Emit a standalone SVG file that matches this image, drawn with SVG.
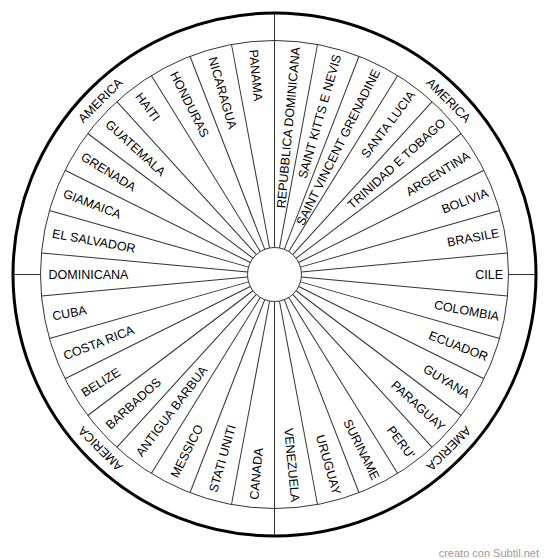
<svg xmlns="http://www.w3.org/2000/svg" width="550" height="559" viewBox="0 0 550 559">
<style>
.ring{fill:none;stroke:#333;stroke-width:1}
.outer{fill:none;stroke:#000;stroke-width:3}
.sp line{stroke:#333;stroke-width:1}
text{font-family:"Liberation Sans",Arial,sans-serif;font-size:12.5px;fill:#000}
.r text{text-anchor:end}
.am{text-anchor:middle}
.credit{font-size:11px;fill:#999}
</style>
<rect width="550" height="559" fill="#fff"/>
<circle class="outer" cx="274.5" cy="274.5" r="261.5"/>
<circle class="ring" cx="274.5" cy="274.5" r="234"/>
<circle class="ring" cx="274.5" cy="274.5" r="27"/>
<g id="connectors" class="sp">
<line x1="301.5" y1="274.5" x2="508.5" y2="274.5" transform="rotate(5.294 274.5 274.5)"/>
<line x1="301.5" y1="274.5" x2="508.5" y2="274.5" transform="rotate(15.882 274.5 274.5)"/>
<line x1="301.5" y1="274.5" x2="508.5" y2="274.5" transform="rotate(26.471 274.5 274.5)"/>
<line x1="301.5" y1="274.5" x2="508.5" y2="274.5" transform="rotate(37.059 274.5 274.5)"/>
<line x1="301.5" y1="274.5" x2="508.5" y2="274.5" transform="rotate(47.647 274.5 274.5)"/>
<line x1="301.5" y1="274.5" x2="508.5" y2="274.5" transform="rotate(58.235 274.5 274.5)"/>
<line x1="301.5" y1="274.5" x2="508.5" y2="274.5" transform="rotate(68.824 274.5 274.5)"/>
<line x1="301.5" y1="274.5" x2="508.5" y2="274.5" transform="rotate(79.412 274.5 274.5)"/>
<line x1="274.5" y1="301.5" x2="274.5" y2="535"/>
<line x1="301.5" y1="274.5" x2="508.5" y2="274.5" transform="rotate(100.588 274.5 274.5)"/>
<line x1="301.5" y1="274.5" x2="508.5" y2="274.5" transform="rotate(111.176 274.5 274.5)"/>
<line x1="301.5" y1="274.5" x2="508.5" y2="274.5" transform="rotate(121.765 274.5 274.5)"/>
<line x1="301.5" y1="274.5" x2="508.5" y2="274.5" transform="rotate(132.353 274.5 274.5)"/>
<line x1="301.5" y1="274.5" x2="508.5" y2="274.5" transform="rotate(142.941 274.5 274.5)"/>
<line x1="301.5" y1="274.5" x2="508.5" y2="274.5" transform="rotate(153.529 274.5 274.5)"/>
<line x1="301.5" y1="274.5" x2="508.5" y2="274.5" transform="rotate(164.118 274.5 274.5)"/>
<line x1="301.5" y1="274.5" x2="508.5" y2="274.5" transform="rotate(174.706 274.5 274.5)"/>
<line x1="301.5" y1="274.5" x2="508.5" y2="274.5" transform="rotate(185.294 274.5 274.5)"/>
<line x1="301.5" y1="274.5" x2="508.5" y2="274.5" transform="rotate(195.882 274.5 274.5)"/>
<line x1="301.5" y1="274.5" x2="508.5" y2="274.5" transform="rotate(206.471 274.5 274.5)"/>
<line x1="301.5" y1="274.5" x2="508.5" y2="274.5" transform="rotate(217.059 274.5 274.5)"/>
<line x1="301.5" y1="274.5" x2="508.5" y2="274.5" transform="rotate(227.647 274.5 274.5)"/>
<line x1="301.5" y1="274.5" x2="508.5" y2="274.5" transform="rotate(238.235 274.5 274.5)"/>
<line x1="301.5" y1="274.5" x2="508.5" y2="274.5" transform="rotate(248.824 274.5 274.5)"/>
<line x1="301.5" y1="274.5" x2="508.5" y2="274.5" transform="rotate(259.412 274.5 274.5)"/>
<line x1="274.5" y1="247.5" x2="274.5" y2="14"/>
<line x1="301.5" y1="274.5" x2="508.5" y2="274.5" transform="rotate(280.588 274.5 274.5)"/>
<line x1="301.5" y1="274.5" x2="508.5" y2="274.5" transform="rotate(291.176 274.5 274.5)"/>
<line x1="301.5" y1="274.5" x2="508.5" y2="274.5" transform="rotate(301.765 274.5 274.5)"/>
<line x1="301.5" y1="274.5" x2="508.5" y2="274.5" transform="rotate(312.353 274.5 274.5)"/>
<line x1="301.5" y1="274.5" x2="508.5" y2="274.5" transform="rotate(322.941 274.5 274.5)"/>
<line x1="301.5" y1="274.5" x2="508.5" y2="274.5" transform="rotate(333.529 274.5 274.5)"/>
<line x1="301.5" y1="274.5" x2="508.5" y2="274.5" transform="rotate(344.118 274.5 274.5)"/>
<line x1="301.5" y1="274.5" x2="508.5" y2="274.5" transform="rotate(354.706 274.5 274.5)"/>
<line x1="508.5" y1="274.5" x2="535" y2="274.5"/>
<line x1="40.5" y1="274.5" x2="14" y2="274.5"/>
</g>
<g id="america-labels">
<g id="america-ne"><text class="am" x="274.5" y="32.5" transform="rotate(45 274.5 274.5)">AMERICA</text></g>
<g id="america-nw"><text class="am" x="274.5" y="32.5" transform="rotate(-45 274.5 274.5)">AMERICA</text></g>
<g id="america-se"><text class="am" x="274.5" y="32.5" transform="rotate(135 274.5 274.5)">AMERICA</text></g>
<g id="america-sw"><text class="am" x="274.5" y="32.5" transform="rotate(225 274.5 274.5)">AMERICA</text></g>
</g>
<g class="r">
<g id="repubblica-dominicana"><text x="503" y="279" transform="rotate(-84.706 274.5 274.5)">REPUBBLICA DOMINICANA</text></g>
<g id="saint-kitts"><text x="503" y="279" transform="rotate(-74.118 274.5 274.5)">SAINT KITTS E NEVIS</text></g>
<g id="saint-vincent"><text x="503" y="279" transform="rotate(-63.529 274.5 274.5)">SAINT VINCENT GRENADINE</text></g>
<g id="santa-lucia"><text x="503" y="279" transform="rotate(-52.941 274.5 274.5)">SANTA LUCIA</text></g>
<g id="trinidad"><text x="503" y="279" transform="rotate(-42.353 274.5 274.5)">TRINIDAD E TOBAGO</text></g>
<g id="argentina"><text x="503" y="279" transform="rotate(-31.765 274.5 274.5)">ARGENTINA</text></g>
<g id="bolivia"><text x="503" y="279" transform="rotate(-21.176 274.5 274.5)">BOLIVIA</text></g>
<g id="brasile"><text x="503" y="279" transform="rotate(-10.588 274.5 274.5)">BRASILE</text></g>
<g id="cile"><text x="503" y="279">CILE</text></g>
<g id="colombia"><text x="503" y="279" transform="rotate(10.588 274.5 274.5)">COLOMBIA</text></g>
<g id="ecuador"><text x="503" y="279" transform="rotate(21.176 274.5 274.5)">ECUADOR</text></g>
<g id="guyana"><text x="503" y="279" transform="rotate(31.765 274.5 274.5)">GUYANA</text></g>
<g id="paraguay"><text x="503" y="279" transform="rotate(42.353 274.5 274.5)">PARAGUAY</text></g>
<g id="peru"><text x="503" y="279" transform="rotate(52.941 274.5 274.5)">PERU'</text></g>
<g id="suriname"><text x="503" y="279" transform="rotate(63.529 274.5 274.5)">SURINAME</text></g>
<g id="uruguay"><text x="503" y="279" transform="rotate(74.118 274.5 274.5)">URUGUAY</text></g>
<g id="venezuela"><text x="503" y="279" transform="rotate(84.706 274.5 274.5)">VENEZUELA</text></g>
</g>
<g class="l">
<g id="panama"><text x="48.5" y="279" transform="rotate(84.706 274.5 274.5)">PANAMA</text></g>
<g id="nicaragua"><text x="48.5" y="279" transform="rotate(74.118 274.5 274.5)">NICARAGUA</text></g>
<g id="honduras"><text x="48.5" y="279" transform="rotate(63.529 274.5 274.5)">HONDURAS</text></g>
<g id="haiti"><text x="48.5" y="279" transform="rotate(52.941 274.5 274.5)">HAITI</text></g>
<g id="guatemala"><text x="48.5" y="279" transform="rotate(42.353 274.5 274.5)">GUATEMALA</text></g>
<g id="grenada"><text x="48.5" y="279" transform="rotate(31.765 274.5 274.5)">GRENADA</text></g>
<g id="giamaica"><text x="48.5" y="279" transform="rotate(21.176 274.5 274.5)">GIAMAICA</text></g>
<g id="el-salvador"><text x="48.5" y="279" transform="rotate(10.588 274.5 274.5)">EL SALVADOR</text></g>
<g id="dominicana"><text x="48.5" y="279">DOMINICANA</text></g>
<g id="cuba"><text x="48.5" y="279" transform="rotate(-10.588 274.5 274.5)">CUBA</text></g>
<g id="costa-rica"><text x="48.5" y="279" transform="rotate(-21.176 274.5 274.5)">COSTA RICA</text></g>
<g id="belize"><text x="48.5" y="279" transform="rotate(-31.765 274.5 274.5)">BELIZE</text></g>
<g id="barbados"><text x="48.5" y="279" transform="rotate(-42.353 274.5 274.5)">BARBADOS</text></g>
<g id="antigua-barbua"><text x="48.5" y="279" transform="rotate(-52.941 274.5 274.5)">ANTIGUA BARBUA</text></g>
<g id="messico"><text x="48.5" y="279" transform="rotate(-63.529 274.5 274.5)">MESSICO</text></g>
<g id="stati-uniti"><text x="48.5" y="279" transform="rotate(-74.118 274.5 274.5)">STATI UNITI</text></g>
<g id="canada"><text x="48.5" y="279" transform="rotate(-84.706 274.5 274.5)">CANADA</text></g>
</g>
<text class="credit" x="539" y="557" text-anchor="end">creato con Subtil.net</text>
</svg>
